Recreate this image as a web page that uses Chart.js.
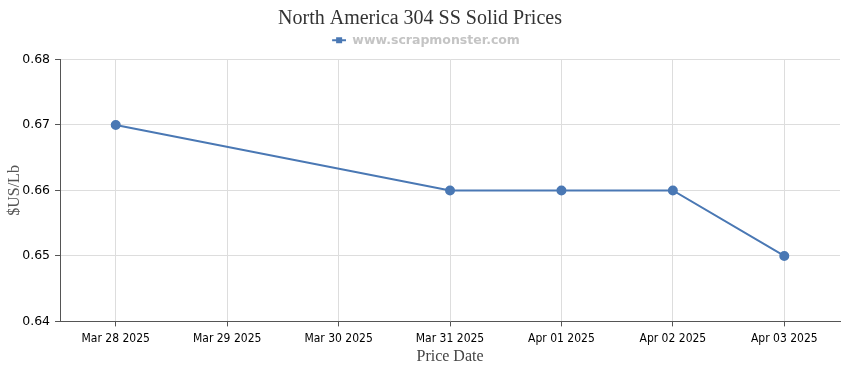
<!DOCTYPE html>
<html>
<head>
<meta charset="utf-8">
<script src="https://cdn.jsdelivr.net/npm/chart.js@4/dist/chart.umd.min.js"></script>
<style>
  html, body { margin: 0; padding: 0; background: #fff; }
  #wrap { width: 850px; height: 370px; }
</style>
</head>
<body>
<div id="wrap"><canvas id="priceChart"></canvas></div>
<script>
// price dates and values ($US/Lb), gaps where no price was posted
const priceDates = ['Mar 28 2025', 'Mar 29 2025', 'Mar 30 2025', 'Mar 31 2025', 'Apr 01 2025', 'Apr 02 2025', 'Apr 03 2025'];
const priceValues = [0.67, null, null, 0.66, 0.66, 0.66, 0.65];
const yTicks = [0.64, 0.65, 0.66, 0.67, 0.68];

const lineColor = '#4a78b4';

// legend marker: short line with a square on it (left part left empty to nudge legend right)
function legendMarker() {
    const c = document.createElement('canvas');
    c.width = 26;
    c.height = 8;
    const g = c.getContext('2d');
    g.fillStyle = lineColor;
    g.fillRect(12, 3, 14, 2);
    g.fillRect(16, 1, 6, 6);
    return c;
}

// extra space under the legend
const legendGap = {
    id: 'legendGap',
    beforeInit(chart) {
        const fit = chart.legend.fit;
        chart.legend.fit = function () {
            fit.bind(chart.legend)();
            this.height += 3;
        };
    }
};

const ctx = document.getElementById('priceChart').getContext('2d');
new Chart(ctx, {
    type: 'line',
    data: {
        labels: priceDates,
        datasets: [{
            label: 'www.scrapmonster.com',
            data: priceValues,
            borderColor: lineColor,
            backgroundColor: lineColor,
            borderWidth: 2,
            pointRadius: 4,
            pointHoverRadius: 5,
            spanGaps: true,
            tension: 0,
            fill: false
        }]
    },
    options: {
        responsive: true,
        maintainAspectRatio: false,
        animation: false,
        layout: { padding: { left: 0, right: 10, top: 5, bottom: 4 } },
        plugins: {
            title: {
                display: true,
                text: 'North America 304 SS Solid Prices',
                color: '#333',
                font: { family: 'Liberation Serif', size: 20, weight: 'normal' },
                padding: { top: 2, bottom: -7 }
            },
            legend: {
                display: true,
                labels: {
                    usePointStyle: true,
                    pointStyle: legendMarker(),
                    pointStyleWidth: 26,
                    color: '#c4c4c4',
                    font: { family: 'DejaVu Sans', size: 12.5, weight: 'bold' },
                    padding: 10
                }
            },
            tooltip: { enabled: false }
        },
        scales: {
            x: {
                offset: true,
                grid: {
                    color: '#dddddd',
                    tickColor: '#555',
                    tickLength: 5,
                    offset: false
                },
                border: { color: '#555', width: 1 },
                ticks: {
                    color: '#000',
                    font: { family: 'DejaVu Sans Condensed', size: 12 },
                    maxRotation: 0,
                    autoSkip: false,
                    padding: 5
                },
                title: {
                    display: true,
                    text: 'Price Date',
                    color: '#444',
                    font: { family: 'Liberation Serif', size: 16 },
                    padding: { top: -4, bottom: 0 }
                }
            },
            y: {
                min: yTicks[0],
                max: yTicks[yTicks.length - 1],
                afterBuildTicks: axis => { axis.ticks = yTicks.map(v => ({ value: v })); },
                grid: {
                    color: '#dddddd',
                    tickColor: '#555',
                    tickLength: 5
                },
                border: { color: '#555', width: 1 },
                ticks: {
                    color: '#000',
                    font: { family: 'DejaVu Sans', size: 12.5 },
                    padding: 5,
                    callback: v => v.toFixed(2)
                },
                title: {
                    display: true,
                    text: '$US/Lb',
                    color: '#555',
                    font: { family: 'Liberation Serif', size: 16 },
                    padding: { top: 5, bottom: -7 }
                }
            }
        }
    },
    plugins: [legendGap]
});
</script>
</body>
</html>
